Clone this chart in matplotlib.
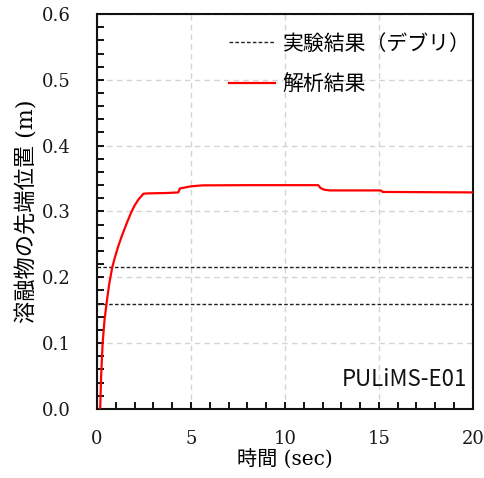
import matplotlib
matplotlib.use("Agg")
import matplotlib.pyplot as plt
from matplotlib.ticker import MultipleLocator, FormatStrFormatter

# Data
t_sim = [0.17, 0.22, 0.30, 0.40, 0.52, 0.65, 0.81, 0.96, 1.13, 1.31, 1.58, 1.84,
         2.02, 2.20, 2.35, 2.47, 2.70, 3.20, 3.62, 4.00, 4.33, 4.41, 4.60, 4.95,
         5.30, 5.65, 8.00, 11.77, 11.90, 12.10, 12.39, 15.10, 15.20, 20.0]
y_sim = [0.0, 0.05, 0.10, 0.135, 0.163, 0.19, 0.215, 0.231, 0.247, 0.262, 0.282, 0.300,
         0.310, 0.318, 0.323, 0.327, 0.3275, 0.3278, 0.328, 0.3285, 0.329, 0.335, 0.336, 0.338,
         0.339, 0.3397, 0.340, 0.340, 0.3355, 0.333, 0.332, 0.332, 0.3297, 0.329]
exp_levels = [0.215, 0.16]
exp_t = [0, 20]
legend_labels = ["実験結果（デブリ）", "解析結果"]
case_label = "PULiMS-E01"
xlabel = "時間 (sec)"
ylabel = "溶融物の先端位置 (m)"

fig = plt.figure(figsize=(4.84, 4.78), dpi=100)
ax = fig.add_axes([0.2004, 0.1444, 0.7766, 0.8263])

serif = ["DejaVu Serif", "Noto Sans CJK JP"]
cjk = ["Noto Sans CJK JP", "DejaVu Sans"]

for i, lv in enumerate(exp_levels):
    ax.plot(exp_t, [lv, lv], color="#222222", lw=1.0, dashes=(2.6, 1.6),
            label=legend_labels[0] if i == 0 else None, zorder=3)
ax.plot(t_sim, y_sim, color="#ff0000", lw=1.6, label=legend_labels[1], zorder=4)

ax.set_xlim(0, 20)
ax.set_ylim(0, 0.6)
ax.xaxis.set_major_locator(MultipleLocator(5))
ax.xaxis.set_minor_locator(MultipleLocator(1))
ax.yaxis.set_major_locator(MultipleLocator(0.1))
ax.yaxis.set_minor_locator(MultipleLocator(0.02))
ax.yaxis.set_major_formatter(FormatStrFormatter("%.1f"))
ax.tick_params(which="both", direction="in", length=5, width=1.3, top=False, right=False)
ax.tick_params(axis="y", which="both", pad=19)
ax.tick_params(axis="x", which="both", pad=15)
for lab in ax.get_xticklabels() + ax.get_yticklabels():
    lab.set_family("DejaVu Serif")
    lab.set_fontsize(13)
    lab.set_color("#1a1a1a")

for sp in ax.spines.values():
    sp.set_linewidth(1.5)
    sp.set_color("#111111")

ax.grid(True, which="major", color="#d4d4d4", lw=1.0, ls=(0, (4, 3)))
ax.set_axisbelow(True)

ax.set_xlabel(xlabel, family=serif, fontsize=14.5, labelpad=1)
ax.set_ylabel(ylabel, family=serif, fontsize=16, labelpad=2)

leg = ax.legend(loc="upper left", bbox_to_anchor=(0.351, 0.953), frameon=False,
                prop={"family": cjk, "size": 15}, handlelength=2.2,
                handletextpad=0.38, labelspacing=0.9, borderpad=0, borderaxespad=0)

ax.text(0.985, 0.045, case_label, transform=ax.transAxes, ha="right", va="bottom",
        family=cjk, fontsize=16, color="#111111")

fig.savefig("out.png", dpi=100)
